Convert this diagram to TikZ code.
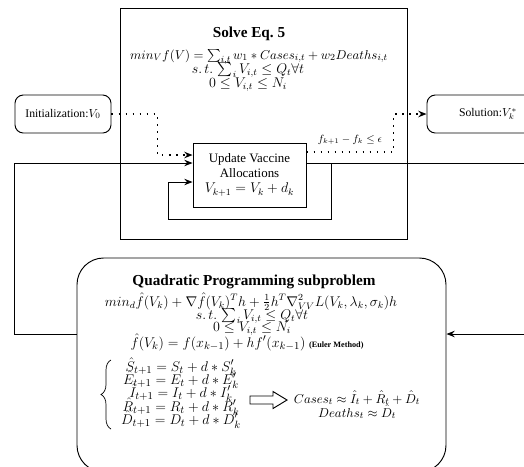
\documentclass[tikz,border=0pt]{standalone}
\usepackage{amsmath}
\usepackage{fontspec}
\setmainfont{Liberation Serif}
\usepackage{tikz}
\usetikzlibrary{positioning}
\usetikzlibrary{calc}
\usetikzlibrary{arrows.meta}
\usetikzlibrary{decorations.pathreplacing}

\begin{document}
\begin{tikzpicture}[x=0.03cm,y=-0.03cm,
    box/.style={draw,line width=0.8pt,inner sep=0pt},
    solvebox/.style={box,minimum width=8.61cm,minimum height=6.93cm},
    updbox/.style={box,align=center,minimum width=3.39cm,minimum height=1.92cm,
      font=\fontsize{11}{12.8}\selectfont},
    roundbox/.style={box,rounded corners=0.25cm,minimum height=1.14cm},
    qpbox/.style={box,rounded corners=0.8cm,minimum width=11.07cm,minimum height=6.42cm},
    title/.style={font=\fontsize{13}{15}\selectfont\bfseries},
    eqline/.style={anchor=base,inner sep=0.5pt,font=\fontsize{11.5}{13}\selectfont},
    seline/.style={eqline,font=\fontsize{12.5}{14}\selectfont},
    flow/.style={line width=0.8pt,-{Stealth[length=7pt,width=5.5pt]}},
    dotflow/.style={flow,line width=1.4pt,dash pattern=on 1.4pt off 4.6pt}]
  \useasboundingbox (0,0) rectangle (524,466);
  \clip (0,0) rectangle (524,466);

  % Outer problem
  \node[solvebox] (solve) at (263.5,123.5) {};
  \node[title] (solvetitle) at (249,34) {Solve Eq.~5};
  \node[eqline,font=\fontsize{11}{13}\selectfont] (solveobj) at (259,59)
    {$min_V f(V)=\sum_{i,t} w_1 * Cases_{i,t}+w_2 Deaths_{i,t}$};
  \node[eqline] (solvest) at (248,73) {$s.\,t.\,\sum_i V_{i,t}\le Q_t\forall t$};
  \node[eqline] (solvebnd) at (248,87) {$0\le V_{i,t}\le N_i$};

  % Start, update step and result
  \node[roundbox,minimum width=2.88cm] (init) at (63,114) {Initialization:$V_0$};
  \node[roundbox,minimum width=3.66cm] (solution) at (488,114) {Solution:$V_k^*$};
  \node[updbox] (update) at (249.5,175)
    {Update Vaccine\\Allocations\\{\fontsize{12}{13}\selectfont$V_{k+1}=V_k+d_k$}};

  % QP subproblem
  \node[qpbox] (qp) at (261.5,365) {};
  \node[title] (qptitle) at (254,282) {Quadratic Programming subproblem};
  \node[eqline,font=\fontsize{12}{13}\selectfont] (qpobj) at (251,306)
    {$min_d\hat{f}(V_k)+\nabla\hat{f}(V_k)^Th+\frac{1}{2}h^T\nabla^2_{VV}L(V_k,\lambda_k,\sigma_k)h$};
  \node[eqline] (qpst) at (252,319) {$s.\,t.\,\sum_i V_{i,t}\le Q_t\forall t$};
  \node[eqline] (qpbnd) at (252,331) {$0\le V_{i,t}\le N_i$};
  \node[eqline,font=\fontsize{12.5}{14}\selectfont] (euler) at (247,347)
    {$\hat{f}(V_k)=f(x_{k-1})+hf'(x_{k-1})$ {\fontsize{7}{8}\selectfont\bfseries(Euler Method)}};

  % SEIRD update
  \node[seline] (seS) at (181,371) {$\hat{S}_{t+1}=S_t+d*S'_k$};
  \node[seline] (seE) at (181,384) {$\hat{E}_{t+1}=E_t+d*E'_k$};
  \node[seline] (seI) at (181,397) {$\hat{I}_{t+1}=I_t+d*I'_k$};
  \node[seline] (seR) at (181,411) {$\hat{R}_{t+1}=R_t+d*R'_k$};
  \node[seline] (seD) at (181,424) {$\hat{D}_{t+1}=D_t+d*D'_k$};
  \draw[line width=0.6pt,decorate,decoration={brace,amplitude=0.3cm}] (111,429) -- (111,360);
  \draw[line width=0.8pt] (250,396) -- (273,396) -- (273,391.5) -- (287,400)
    -- (273,408.5) -- (273,404) -- (250,404) -- cycle;
  \node[eqline,font=\fontsize{11}{13}\selectfont] (cases) at (357,403) {$Cases_t\approx\hat{I}_t+\hat{R}_t+\hat{D}_t$};
  \node[eqline,font=\fontsize{11}{13}\selectfont] (deaths) at (357,417) {$Deaths_t\approx\hat{D}_t$};

  % Dotted flow
  \draw[dotflow] (init.east) -| ($(update.west)+(-35,-20)$) -- ($(update.west)+(0,-20)$);
  \draw[dotflow] ($(update.east)+(0,-23)$) -- ++(87,0) |- (solution.west);
  \node[font=\fontsize{9}{10}\selectfont] (stoplabel) at (350,140) {$f_{k+1}-f_k\le\epsilon$};

  % Solid loops
  \coordinate (outR) at ($(update.east)+(0,-12)$);
  \draw[flow] (outR) -- ++(224,0) |- ($(qp.east)+(0,-31)$);
  \draw[flow] ($(qp.west)+(0,-31)$) -- ++(-62,0) |- ($(update.west)+(0,-12)$);
  \draw[flow] ($(outR)+(25,0)$) -- ++(0,56) -- ++(-163,0) |- ($(update.west)+(0,7)$);

\end{tikzpicture}
\end{document}
